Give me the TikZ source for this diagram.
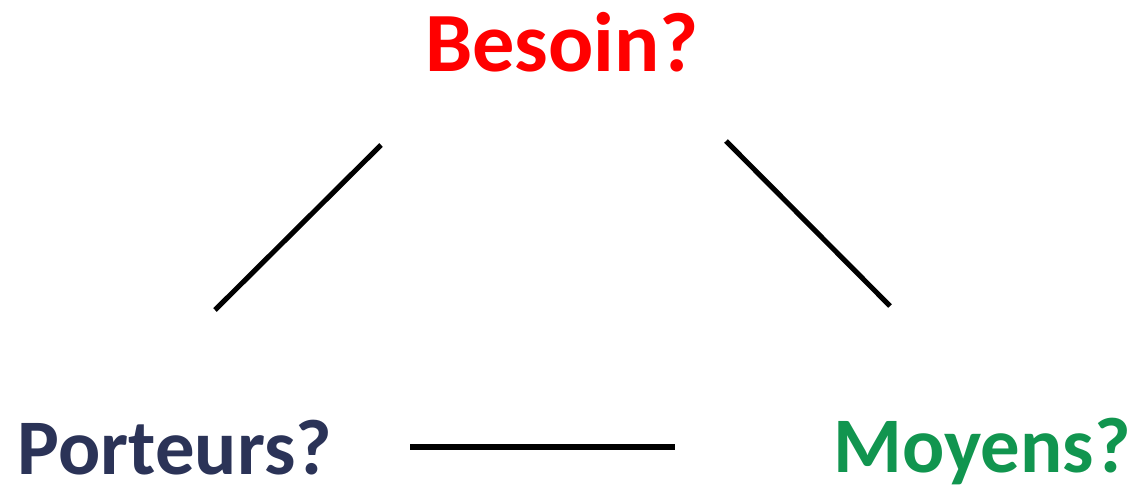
\documentclass[tikz,border=0pt]{standalone}
\usepackage{fontspec}
\setmainfont{Carlito}
\usetikzlibrary{positioning}
\definecolor{besoinred}{HTML}{FF0000}
\definecolor{porteurblue}{HTML}{2B3357}
\definecolor{moyengreen}{HTML}{11954F}
\tikzset{
  label/.style={inner sep=0pt, text depth=0pt, anchor=base, font=\bfseries\fontsize{56pt}{60pt}\selectfont}, % the three questions
  link/.style={line width=3.6pt, black}, % lines between them
}
\begin{document}
\begin{tikzpicture}[x=0.025cm, y=-0.025cm]
  \useasboundingbox (0,0) rectangle (1140,486);

  \node[label, text=besoinred, font=\bfseries\fontsize{60pt}{64pt}\selectfont] (besoin) at (562,72) {Besoin?};
  \node[label, text=porteurblue] (porteurs) at (175,474) {Porteurs?};
  \node[label, text=moyengreen] (moyens) at (982,472) {Moyens?};

  % free ends of the lines
  \coordinate (bl) at (215,310);
  \coordinate (tl) at (381,145);
  \coordinate (tr) at (726,141);
  \coordinate (br) at (890,306);
  \coordinate (ml) at (410,447);
  \coordinate (mr) at (675,447);

  \draw[link] (bl) -- (tl);
  \draw[link] (tr) -- (br);
  \draw[link] (ml) -- (mr);
\end{tikzpicture}
\end{document}
